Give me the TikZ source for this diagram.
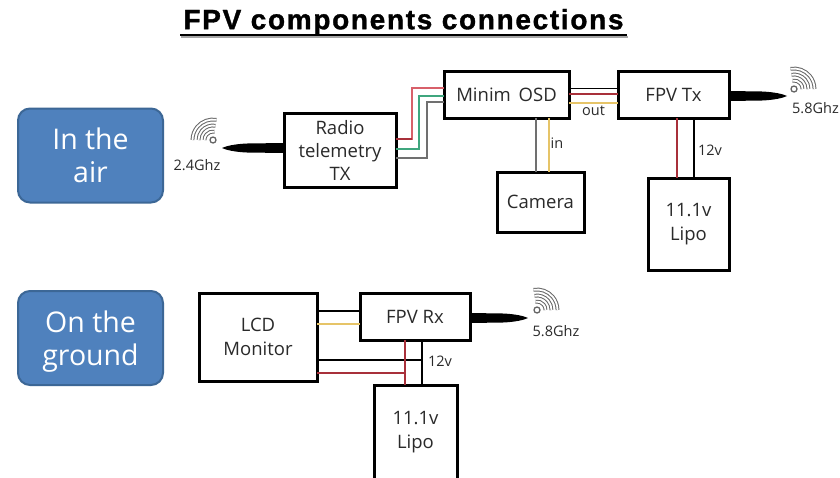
\documentclass[tikz,border=0pt]{standalone}
\usepackage{fontspec}
\setmainfont{Open Sans}
\newfontfamily\titlefont[LetterSpace=6,FakeBold=1.2]{Liberation Sans Bold}
\definecolor{txt}{HTML}{2A2A2A}
\definecolor{blu}{HTML}{4F81BD}
\definecolor{blueedge}{HTML}{3C6796}
\definecolor{wred}{HTML}{A8303A}
\definecolor{lred}{HTML}{D8606A}
\definecolor{wgreen}{HTML}{3FA67E}
\definecolor{wgray}{HTML}{707070}
\definecolor{wyel}{HTML}{E6C468}
\tikzset{
  box/.style={draw=black,line width=3pt,fill=white,rectangle,inner sep=0pt,outer sep=0pt,align=center,text=txt,font=\fontsize{18.5}{24}\selectfont},
  zone/.style={draw=blueedge,line width=2pt,fill=blu,rounded corners=12pt,inner sep=0pt,align=center,text=white,minimum width=145pt,minimum height=94pt,font=\fontsize{28.5}{33}\selectfont},
  tag/.style={inner sep=0pt,text=txt,font=\fontsize{14.5}{16}\selectfont},
  wave/.style={draw=black!60,double=white,double distance=1.8pt,line width=1pt},
  dot/.style={circle,draw=black!60,line width=1.3pt,fill=white,minimum size=6pt,inner sep=0pt},
  titletext/.style={inner sep=0pt,font=\titlefont\fontsize{28}{32}\selectfont}
}
\newcommand{\wifiarcs}[3]{% centre x, y, start angle
  \foreach \r in {8.5,14.5,20.5}{
    \draw[wave] ($(#1,#2)+(#3:\r)$) arc[start angle=#3,end angle=#3-100,radius=\r];
  }
}
\usetikzlibrary{calc}
\begin{document}
\begin{tikzpicture}[x=1pt,y=1pt]
\clip (0,0) rectangle (840,-477);
\fill[white] (0,0) rectangle (840,-477);

% title
\node[titletext,text=black] (title) at (403.5,-22) {FPV components connections};
\coordinate (ulL) at (180,-35);
\coordinate (ulR) at (627,-35);
\draw[line width=2pt,black!35] ($(ulL)+(1,-1.5)$) -- ($(ulR)+(1,-1.5)$);
\draw[line width=1.6pt,black] (ulL) -- (ulR);

% zones
\node[zone] (air) at (90.5,-155.5) {In the\\air};
\node[zone] (ground) at (90.5,-338) {\rule{0pt}{28pt}On the\\ground};

% boxes
\node[box,minimum width=112pt,minimum height=74pt] (radio) at (340,-150) {Radio\\[-1pt]telemetry\\[-1pt]TX};
\node[box,minimum width=125pt,minimum height=47pt] (osd) at (506.5,-94.5) {Minim\hspace{3pt} OSD};
\node[box,minimum width=111pt,minimum height=47pt] (ftx) at (673.5,-94.5) {FPV Tx};
\node[box,minimum width=87pt,minimum height=60pt] (cam) at (540.5,-202) {Camera};
\node[box,minimum width=81pt,minimum height=92pt] (lipoa) at (688.5,-224) {11.1v\\Lipo};
\node[box,minimum width=118pt,minimum height=88pt] (lcd) at (258,-337) {LCD\\Monitor};
\node[box,minimum width=110pt,minimum height=47pt] (frx) at (415,-316.5) {FPV Rx};
\node[box,minimum width=83pt,minimum height=95pt] (lipob) at (415.5,-432.5) {11.1v\\Lipo};

% radio to OSD
\draw[lred,line width=1.1pt] (radio.east |- 0,-139) -| (412,-88) -- (osd.west |- 0,-88);
\draw[wgreen,line width=1.3pt] (radio.east |- 0,-149) -| (419,-96) -- (osd.west |- 0,-96);
\draw[wgray,line width=1.2pt] (radio.east |- 0,-158) -| (427,-102) -- (osd.west |- 0,-102);
\draw[wred,line width=1.4pt] (radio.east |- 0,-139) -- (412,-139);

% OSD to FPV Tx
\draw[black,line width=1pt] (osd.east |- 0,-88) -- (ftx.west |- 0,-88);
\draw[wred,line width=1.3pt] (osd.east |- 0,-94) -- (ftx.west |- 0,-94);
\draw[wyel,line width=1.3pt] (osd.east |- 0,-103) -- (ftx.west |- 0,-103);

% OSD to camera
\draw[wgray,line width=1.5pt] (osd.south -| 536,0) -- (cam.north -| 536,0);
\draw[wyel,line width=1.5pt] (osd.south -| 549,0) -- (cam.north -| 549,0);

% FPV Tx to lipo
\draw[wred,line width=2.8pt] (ftx.south -| 677,0) -- (lipoa.north -| 677,0);
\draw[black,line width=1.6pt] (ftx.south -| 694,0) -- (lipoa.north -| 694,0);

% LCD to FPV Rx
\draw[black,line width=1.1pt] (lcd.east |- 0,-311) -- (frx.west |- 0,-311);
\draw[wyel,line width=1.1pt] (lcd.east |- 0,-324) -- (frx.west |- 0,-324);

% power ground
\draw[black,line width=1.6pt] (frx.south -| 422,0) -- (lipob.north -| 422,0);
\draw[black,line width=1.6pt] (lcd.east |- 0,-360) -- (422,-360);
\draw[wred,line width=2.8pt] (frx.south -| 405,0) -- (lipob.north -| 405,0);
\draw[wred,line width=2.8pt] (lcd.east |- 0,-373) -- (405,-373);

% antennas
\fill[black] (radio.west |- 0,-143) -- (247,-143.5) .. controls (235,-144) and (226,-146) .. (222,-148)
  .. controls (226,-150) and (235,-152) .. (247,-152.5) -- (radio.west |- 0,-153) -- cycle;
\fill[black] (ftx.east |- 0,-91) -- (762,-91.5) .. controls (774,-92) and (783,-94) .. (787,-96)
  .. controls (783,-98) and (774,-100) .. (762,-100.5) -- (ftx.east |- 0,-101) -- cycle;
\fill[black] (frx.east |- 0,-313) -- (503,-313.5) .. controls (515,-314) and (524,-316) .. (528,-318)
  .. controls (524,-320) and (515,-322) .. (503,-322.5) -- (frx.east |- 0,-323) -- cycle;

% wifi symbols
\begin{scope}[xscale=-1]
  \wifiarcs{-213}{-140}{100}
\end{scope}
\node[dot] (wa) at (213,-140) {};
\wifiarcs{794}{-89}{100}
\node[dot] (wb) at (794,-89) {};
\wifiarcs{537}{-310}{100}
\node[dot] (wc) at (537,-310) {};

% labels
\node[tag] (l24) at (197,-165) {2.4Ghz};
\node[tag] (l58a) at (815.5,-108) {5.8Ghz};
\node[tag] (l58b) at (556,-331) {5.8Ghz};
\node[tag] (lout) at (593.5,-111) {out};
\node[tag] (lin) at (557,-143) {in};
\node[tag] (l12a) at (710,-150) {12v};
\node[tag] (l12b) at (440,-361) {12v};
\end{tikzpicture}
\end{document}
